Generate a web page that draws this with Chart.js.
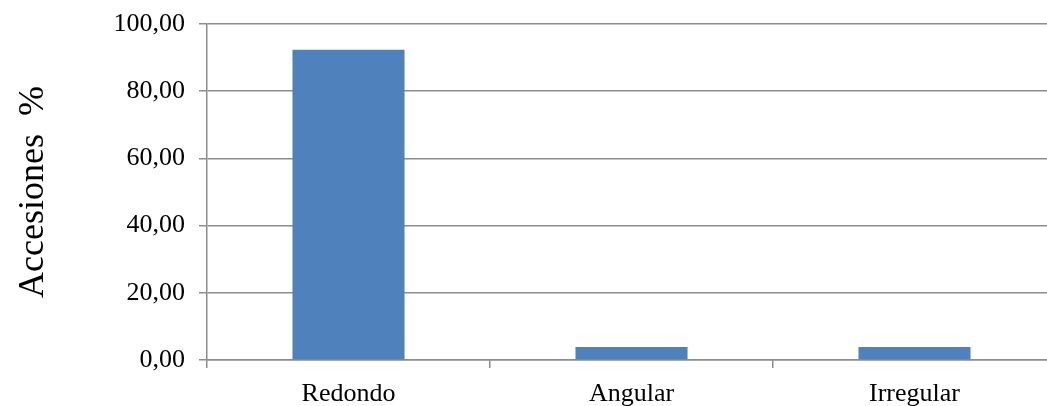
<!DOCTYPE html>
<html>
<head>
<meta charset="utf-8">
<script src="https://cdn.jsdelivr.net/npm/chart.js@4"></script>
<style>
html,body{margin:0;padding:0;background:#fff;overflow:hidden;}
#wrap{width:1056px;height:406px;position:relative;}
</style>
</head>
<body>
<div id="wrap"><canvas id="chartCanvas"></canvas></div>
<script>
// forma de la semilla
let categories = ['Redondo', 'Angular', 'Irregular'];
let percentages = [92.31, 3.85, 3.85];
let yTicks = [0, 20, 40, 60, 80, 100];

let gridGrey = '#8c8c8c';

let ctx = document.getElementById('chartCanvas').getContext('2d');

let myChart = new Chart(ctx, {
    type: 'bar',
    data: {
        labels: categories,
        datasets: [{
            label: 'Accesiones',
            backgroundColor: '#4F81BD',
            data: percentages,
            categoryPercentage: 1,
            barPercentage: 0.396
        }]
    },
    options: {
        responsive: true,
        maintainAspectRatio: false,
        animation: false,
        layout: { padding: { top: 24, right: 0, bottom: 0, left: 0 } },
        plugins: {
            legend: { display: false },
            tooltip: { enabled: false }
        },
        scales: {
            x: {
                offset: true,
                grid: {
                    offset: true,
                    drawOnChartArea: false,
                    drawTicks: true,
                    tickLength: 8,
                    color: gridGrey,
                    lineWidth: 1.5
                },
                border: { color: gridGrey, width: 1.5 },
                ticks: {
                    color: '#000',
                    padding: 11,
                    font: { family: 'Liberation Serif', size: 26 }
                },
                afterFit: function (scale) { scale.height = 46; }
            },
            y: {
                min: 0,
                max: 100,
                afterBuildTicks: function (scale) {
                    scale.ticks = yTicks.map(v => ({ value: v }));
                },
                grid: {
                    color: gridGrey,
                    lineWidth: 1.5,
                    tickLength: 8
                },
                border: { color: gridGrey, width: 1.5 },
                ticks: {
                    color: '#000',
                    padding: 14,
                    font: { family: 'Liberation Serif', size: 26 },
                    callback: function (v) { return v.toFixed(2).replace('.', ','); }
                },
                title: {
                    display: true,
                    text: 'Accesiones  %',
                    color: '#000',
                    padding: { top: 12, bottom: 20 },
                    font: { family: 'Liberation Serif', size: 36 }
                },
                afterFit: function (scale) {
                    scale.width = 207;
                    scale.paddingTop = 0;
                    scale.paddingBottom = 0;
                }
            }
        }
    }
});
</script>
</body>
</html>
